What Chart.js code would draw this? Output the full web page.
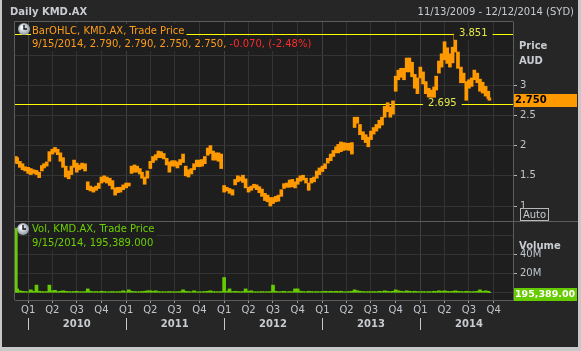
<!DOCTYPE html>
<html>
<head>
<meta charset="utf-8">
<script src="https://cdn.jsdelivr.net/npm/chart.js@4.4.1/dist/chart.umd.min.js"></script>
<style>
  html, body { margin: 0; padding: 0; background: #c8c8c8; }
  #wrap { position: relative; width: 581px; height: 351px; }
</style>
</head>
<body>
<div id="wrap"><canvas id="kmd" width="581" height="351"></canvas></div>
<script>
const dates = [
  "2009-11-16","2009-11-21","2009-12-01","2009-12-11","2009-12-21",
  "2010-01-01","2010-01-11","2010-01-21","2010-02-01","2010-02-11","2010-02-21","2010-03-01","2010-03-11","2010-03-21",
  "2010-04-01","2010-04-11","2010-04-21","2010-05-01","2010-05-11","2010-05-21","2010-06-01","2010-06-11","2010-06-21",
  "2010-07-01","2010-07-11","2010-07-21","2010-08-01","2010-08-11","2010-08-21","2010-09-01","2010-09-11","2010-09-21",
  "2010-10-01","2010-10-11","2010-10-21","2010-11-01","2010-11-11","2010-11-21","2010-12-01","2010-12-11","2010-12-21",
  "2011-01-01","2011-01-11","2011-01-21","2011-02-01","2011-02-11","2011-02-21","2011-03-01","2011-03-11","2011-03-21",
  "2011-04-01","2011-04-11","2011-04-21","2011-05-01","2011-05-11","2011-05-21","2011-06-01","2011-06-11","2011-06-21",
  "2011-07-01","2011-07-11","2011-07-21","2011-08-01","2011-08-11","2011-08-21","2011-09-01","2011-09-11","2011-09-21",
  "2011-10-01","2011-10-11","2011-10-21","2011-11-01","2011-11-11","2011-11-21","2011-12-01","2011-12-11","2011-12-21",
  "2012-01-01","2012-01-11","2012-01-21","2012-02-01","2012-02-11","2012-02-21","2012-03-01","2012-03-11","2012-03-21",
  "2012-04-01","2012-04-11","2012-04-21","2012-05-01","2012-05-11","2012-05-21","2012-06-01","2012-06-11","2012-06-21",
  "2012-07-01","2012-07-11","2012-07-21","2012-08-01","2012-08-11","2012-08-21","2012-09-01","2012-09-11","2012-09-21",
  "2012-10-01","2012-10-11","2012-10-21","2012-11-01","2012-11-11","2012-11-21","2012-12-01","2012-12-11","2012-12-21",
  "2013-01-01","2013-01-11","2013-01-21","2013-02-01","2013-02-11","2013-02-21","2013-03-01","2013-03-11","2013-03-21",
  "2013-04-01","2013-04-11","2013-04-21","2013-05-01","2013-05-11","2013-05-21","2013-06-01","2013-06-11","2013-06-21",
  "2013-07-01","2013-07-11","2013-07-21","2013-08-01","2013-08-11","2013-08-21","2013-09-01","2013-09-11","2013-09-21",
  "2013-10-01","2013-10-11","2013-10-21","2013-11-01","2013-11-11","2013-11-21","2013-12-01","2013-12-11","2013-12-21",
  "2014-01-01","2014-01-11","2014-01-21","2014-02-01","2014-02-11","2014-02-21","2014-03-01","2014-03-11","2014-03-21",
  "2014-04-01","2014-04-11","2014-04-21","2014-05-01","2014-05-11","2014-05-21","2014-06-01","2014-06-11","2014-06-21",
  "2014-07-01","2014-07-11","2014-07-21","2014-08-01","2014-08-11","2014-08-21","2014-09-01","2014-09-11","2014-09-15"
];
const highs = [
  1.82,1.80,1.74,1.70,1.65,
  1.64,1.62,1.60,1.59,1.56,1.67,1.70,1.73,1.90,
  1.94,1.97,1.94,1.88,1.80,1.66,1.58,1.66,1.76,
  1.71,1.68,1.71,1.70,1.40,1.33,1.31,1.33,1.38,
  1.48,1.50,1.48,1.46,1.42,1.30,1.31,1.31,1.35,
  1.38,1.38,1.66,1.68,1.66,1.62,1.56,1.48,1.58,
  1.74,1.82,1.85,1.91,1.90,1.87,1.79,1.73,1.75,
  1.75,1.73,1.77,1.86,1.66,1.60,1.62,1.70,1.76,
  1.76,1.77,1.82,1.96,2.00,1.91,1.88,1.88,1.86,
  1.34,1.31,1.29,1.27,1.44,1.50,1.48,1.51,1.45,
  1.31,1.33,1.36,1.35,1.32,1.28,1.21,1.18,1.14,
  1.14,1.16,1.18,1.27,1.37,1.38,1.43,1.44,1.40,
  1.46,1.50,1.51,1.46,1.38,1.46,1.48,1.58,1.63,
  1.66,1.70,1.79,1.86,1.92,1.98,2.02,2.06,2.05,
  2.04,2.04,2.05,2.47,2.47,2.35,2.23,2.18,2.14,
  2.24,2.30,2.35,2.42,2.47,2.65,2.71,2.64,2.74,
  3.15,3.25,3.28,3.28,3.45,3.45,3.38,3.18,3.12,
  3.30,3.22,3.06,2.95,2.92,2.97,3.15,3.40,3.52,
  3.72,3.62,3.52,3.63,3.851,3.55,3.30,3.20,3.06,
  3.09,3.12,3.25,3.20,3.10,3.05,2.98,2.90,2.79
];
const lows = [
  1.72,1.70,1.64,1.60,1.58,
  1.54,1.52,1.54,1.52,1.47,1.58,1.63,1.66,1.74,
  1.86,1.89,1.85,1.74,1.64,1.48,1.45,1.52,1.64,
  1.56,1.60,1.62,1.58,1.27,1.25,1.23,1.26,1.29,
  1.38,1.40,1.38,1.34,1.28,1.18,1.22,1.23,1.27,
  1.30,1.33,1.54,1.56,1.56,1.53,1.46,1.36,1.46,
  1.62,1.72,1.76,1.80,1.80,1.78,1.68,1.56,1.66,
  1.66,1.63,1.68,1.72,1.50,1.48,1.53,1.60,1.65,
  1.65,1.66,1.70,1.84,1.87,1.76,1.76,1.74,1.62,
  1.23,1.25,1.21,1.18,1.35,1.40,1.42,1.39,1.30,
  1.23,1.26,1.30,1.27,1.22,1.16,1.09,1.07,1.00,
  1.04,1.07,1.08,1.16,1.29,1.31,1.31,1.32,1.30,
  1.36,1.41,1.43,1.38,1.26,1.38,1.40,1.46,1.52,
  1.57,1.62,1.71,1.75,1.82,1.88,1.88,1.90,1.92,
  1.93,1.92,1.86,2.30,2.37,2.18,2.10,2.05,1.98,
  2.10,2.19,2.24,2.29,2.34,2.47,2.56,2.47,2.52,
  2.90,3.09,3.13,3.09,3.22,3.22,3.14,2.95,2.86,
  3.12,3.02,2.86,2.80,2.79,2.79,2.92,3.20,3.30,
  3.42,3.36,3.30,3.37,3.55,3.28,3.04,3.04,2.75,
  2.95,2.98,3.09,3.04,2.90,2.87,2.82,2.78,2.75
];
// volume, millions of shares
const volumes = [
  68,4,2,1.5,1.2,
  1.0,3,1.5,8,1.5,1.2,1.0,1.2,8,
  2,2.5,1.2,1.5,2,1.5,1.2,1.0,1.2,
  1.5,1.0,1.0,1.2,4,1.5,1.0,1.2,1.0,
  1.5,1.2,1.0,1.0,1.2,1.0,1.0,1.2,2,
  1.0,3,1.5,1.2,1.0,1.0,1.2,1.5,2,
  2,1.5,2,1.2,1.0,1.0,1.0,1.2,1.0,
  1.0,1.0,1.2,3,1.5,1.2,1.0,2,1.0,
  1.0,1.0,1.2,1.5,2,1.2,1.0,1.0,1.2,
  16,1.5,4,1.2,1.5,1.2,1.0,1.2,4,
  1.5,2,1.0,1.0,1.0,1.2,1.0,1.0,1.2,
  8,1.5,1.0,1.2,1.5,1.0,1.2,1.0,4,
  4,1.5,1.2,1.0,1.5,1.2,1.0,1.2,1.0,
  1.2,1.5,1.2,1.5,1.2,1.5,1.2,1.5,1.0,
  1.0,1.2,1.5,3,2,1.5,1.2,1.0,1.2,
  1.0,1.2,1.0,1.5,1.2,2,1.5,1.2,1.5,
  3,2,1.5,1.2,2,1.5,1.2,1.5,1.2,
  1.0,1.2,1.0,1.2,1.0,1.5,1.2,2,1.5,
  2,1.5,1.2,1.5,2,1.5,1.2,1.0,1.5,
  1.2,1.0,1.2,1.5,3,1.5,2,1.5,0.195
];
const quarterTicks = [
  "2010-01-01","2010-04-01","2010-07-01","2010-10-01",
  "2011-01-01","2011-04-01","2011-07-01","2011-10-01",
  "2012-01-01","2012-04-01","2012-07-01","2012-10-01",
  "2013-01-01","2013-04-01","2013-07-01","2013-10-01",
  "2014-01-01","2014-04-01","2014-07-01","2014-10-01"
];
const years = ["2010", "2011", "2012", "2013", "2014"];
const priceGrid = [1, 1.5, 2, 2.5, 3, 3.5];
const priceLabels = [1, 1.5, 2, 2.5, 3];
const volumeGrid = [0, 20, 40, 60];
const volumeLabels = [20, 40];
const levels = [3.851, 2.695];
const levelDates = ["2014-05-06", "2014-01-11"];
const lastClose = 2.750;
const lastVolume = 195389;
const startDate = "2009-11-13";
const endDate = "2014-12-12";

const FONT = '"DejaVu Sans", sans-serif';
const PLOT_BG = "#1e1e1e";
const AXIS_TXT = "#c0c6cc";

function ms(d) { return Date.parse(d); }

function label(ctx, str, x, y, color, font, align) {
  ctx.font = font;
  ctx.fillStyle = color;
  ctx.textAlign = align || "left";
  ctx.textBaseline = "middle";
  ctx.fillText(str, x, y);
}

function clock(ctx, cx, cy) {
  const g = ctx.createRadialGradient(cx - 2, cy - 2, 1, cx, cy, 6);
  g.addColorStop(0, "#ffffff");
  g.addColorStop(1, "#8e9aa8");
  ctx.fillStyle = g;
  ctx.beginPath();
  ctx.arc(cx, cy, 6, 0, Math.PI * 2);
  ctx.fill();
  ctx.strokeStyle = "#111";
  ctx.lineWidth = 1.4;
  ctx.beginPath();
  ctx.moveTo(cx, cy - 4);
  ctx.lineTo(cx, cy);
  ctx.lineTo(cx + 3, cy);
  ctx.stroke();
}

function legendLine(ctx, parts, x, y) {
  ctx.font = "10px " + FONT;
  let w = 0;
  parts.forEach(p => { w += ctx.measureText(p[0]).width; });
  ctx.fillStyle = PLOT_BG;
  ctx.fillRect(x - 1, y - 7, w + 3, 14);
  let cx = x;
  parts.forEach(p => {
    label(ctx, p[0], cx, y, p[1], "10px " + FONT);
    cx += ctx.measureText(p[0]).width;
  });
}

const decorations = {
  id: "decorations",
  beforeDraw(chart) {
    const { ctx, chartArea: a } = chart;
    ctx.save();
    ctx.fillStyle = "#c8c8c8";
    ctx.fillRect(0, 0, 581, 351);
    ctx.fillStyle = "#262626";
    ctx.fillRect(2, 0, 576, 347);
    ctx.fillStyle = PLOT_BG;
    ctx.fillRect(a.left, a.top, a.width, a.height);
    ctx.restore();
  },
  beforeDatasetsDraw(chart) {
    const { ctx, chartArea: a, scales } = chart;
    ctx.save();
    ctx.strokeStyle = "#ffff00";
    ctx.lineWidth = 1;
    levels.forEach(v => {
      const py = Math.round(scales.y.getPixelForValue(v)) + 0.5;
      ctx.beginPath();
      ctx.moveTo(a.left, py);
      ctx.lineTo(a.right, py);
      ctx.stroke();
    });
    ctx.restore();
  },
  afterDatasetsDraw(chart) {
    const { ctx, chartArea: a, scales } = chart;
    const y = scales.y, x = scales.x;
    ctx.save();
    // level labels
    levels.forEach((v, i) => {
      const px = x.getPixelForValue(ms(levelDates[i])) + 5;
      const py = y.getPixelForValue(v);
      const txt = v.toFixed(3);
      ctx.font = "10px " + FONT;
      const w = ctx.measureText(txt).width;
      ctx.fillStyle = PLOT_BG;
      ctx.fillRect(px - 5, py - 6, w + 10, 12);
      label(ctx, txt, px, py, "#e4e84a", "10px " + FONT);
    });
    // price legend
    clock(ctx, 24, 29);
    legendLine(ctx, [["BarOHLC, KMD.AX, Trade Price", "#ff9c1a"]], 32, 31);
    legendLine(ctx, [["9/15/2014, 2.790, 2.790, 2.750, 2.750, ", "#ff9c1a"], ["-0.070, (-2.48%)", "#ff2a2a"]], 32, 44);
    // volume legend
    clock(ctx, 23, 229);
    legendLine(ctx, [["Vol, KMD.AX, Trade Price", "#6cd000"]], 32, 229);
    legendLine(ctx, [["9/15/2014, " + lastVolume.toLocaleString("en-US") + ".000", "#6cd000"]], 32, 243);
    // panel frame
    ctx.strokeStyle = "#5c5c5c";
    ctx.lineWidth = 1;
    ctx.beginPath();
    ctx.moveTo(a.left - 0.5, a.top - 0.5);
    ctx.lineTo(a.right + 0.5, a.top - 0.5);
    ctx.moveTo(a.left - 0.5, a.top - 0.5);
    ctx.lineTo(a.left - 0.5, a.bottom);
    ctx.moveTo(a.left - 0.5, Math.round(y.bottom) + 0.5);
    ctx.lineTo(578, Math.round(y.bottom) + 0.5);
    ctx.stroke();
    ctx.restore();
  },
  afterDraw(chart) {
    const { ctx, scales } = chart;
    const y = scales.y, yv = scales.yv, x = scales.x;
    ctx.save();
    label(ctx, "Daily KMD.AX", 10, 12, "#c8ccd0", "bold 10px " + FONT);
    label(ctx, "11/13/2009 - 12/12/2014 (SYD)", 574, 12, "#c8ccd0", "10px " + FONT, "right");
    label(ctx, "Price", 519, 46, "#c8ccd0", "bold 10px " + FONT);
    label(ctx, "AUD", 519, 61, "#c8ccd0", "bold 10px " + FONT);
    label(ctx, "Volume", 519, 246, "#c8ccd0", "bold 10px " + FONT);
    // Auto button
    ctx.strokeStyle = "#b8b8b8";
    ctx.lineWidth = 1;
    ctx.strokeRect(520.5, 208.5, 28, 12);
    label(ctx, "Auto", 534.5, 215, "#c8ccd0", "10px " + FONT, "center");
    // last price box
    const pc = Math.round(y.getPixelForValue(lastClose));
    ctx.fillStyle = "#ff9900";
    ctx.fillRect(514, pc - 6, 63, 13);
    label(ctx, lastClose.toFixed(3), 515, pc + 0.5, "#000000", "bold 10px " + FONT);
    // last volume box
    const vc = Math.round(yv.getPixelForValue(lastVolume / 1e6)) + 1;
    ctx.fillStyle = "#66cc00";
    ctx.fillRect(514, vc - 6, 63, 13);
    label(ctx, lastVolume.toLocaleString("en-US") + ".00", 515, vc + 0.5, "#ffffff", "bold 9.5px " + FONT);
    // years and separators
    years.forEach(yr => {
      const sx = Math.round(x.getPixelForValue(ms(yr + "-01-01"))) + 0.5;
      ctx.strokeStyle = "#c8c8c8";
      ctx.beginPath();
      ctx.moveTo(sx, 318);
      ctx.lineTo(sx, 330);
      ctx.stroke();
      label(ctx, yr, x.getPixelForValue(ms(yr + "-07-01")), 324, "#c8ccd0", "bold 10px " + FONT, "center");
    });
    ctx.restore();
  }
};

new Chart(document.getElementById("kmd"), {
  type: "bar",
  data: {
    datasets: [
      {
        label: "BarOHLC, KMD.AX, Trade Price",
        data: dates.map((d, i) => ({ x: ms(d), y: [lows[i], highs[i]] })),
        yAxisID: "y",
        backgroundColor: "#ff9900",
        borderWidth: 0,
        borderSkipped: false,
        barThickness: 3,
        grouped: false
      },
      {
        label: "Vol, KMD.AX, Trade Price",
        data: dates.map((d, i) => ({ x: ms(d), y: volumes[i] })),
        yAxisID: "yv",
        backgroundColor: "#66cc00",
        borderWidth: 0,
        barThickness: 3,
        grouped: false
      }
    ]
  },
  options: {
    responsive: false,
    animation: false,
    events: [],
    layout: { padding: { top: 22, left: 15, right: 4, bottom: 4 } },
    plugins: { legend: { display: false }, tooltip: { enabled: false } },
    scales: {
      x: {
        type: "linear",
        min: ms(startDate),
        max: ms(endDate),
        offset: false,
        afterBuildTicks: s => { s.ticks = quarterTicks.map(d => ({ value: ms(d) })); },
        afterFit: s => { s.height = 47; },
        grid: {
          offset: false,
          color: c => (c.tick && new Date(c.tick.value).getUTCMonth() === 0 ? "#404040" : "#333333"),
          tickColor: "#9a9a9a",
          tickLength: 3
        },
        border: { color: "#5c5c5c" },
        ticks: {
          autoSkip: false,
          maxRotation: 0,
          padding: 1,
          color: AXIS_TXT,
          font: { family: FONT, size: 10 },
          callback: v => "Q" + (Math.floor(new Date(v).getUTCMonth() / 3) + 1)
        }
      },
      y: {
        position: "right",
        stack: "panels",
        stackWeight: 199,
        min: 0.7517,
        max: 4.0464,
        afterBuildTicks: s => { s.ticks = priceGrid.map(v => ({ value: v })); },
        afterFit: s => { s.width = 64; },
        grid: {
          color: "#333333",
          tickColor: c => (c.tick && priceLabels.includes(c.tick.value) ? "#b0b0b0" : "rgba(0,0,0,0)"),
          tickLength: 4
        },
        border: { color: "#5c5c5c" },
        ticks: {
          padding: 3,
          color: AXIS_TXT,
          font: { family: FONT, size: 10 },
          callback: v => (priceLabels.includes(v) ? String(v) : "")
        }
      },
      yv: {
        position: "right",
        stack: "panels",
        stackWeight: 79,
        min: -7.68,
        max: 75.47,
        afterBuildTicks: s => { s.ticks = volumeGrid.map(v => ({ value: v })); },
        afterFit: s => { s.width = 64; },
        grid: {
          color: "#333333",
          tickColor: c => (c.tick && volumeLabels.includes(c.tick.value) ? "#b0b0b0" : "rgba(0,0,0,0)"),
          tickLength: 4
        },
        border: { color: "#5c5c5c" },
        ticks: {
          padding: 3,
          color: AXIS_TXT,
          font: { family: FONT, size: 10 },
          callback: v => (volumeLabels.includes(v) ? v + "M" : "")
        }
      }
    }
  },
  plugins: [decorations]
});
</script>
</body>
</html>
